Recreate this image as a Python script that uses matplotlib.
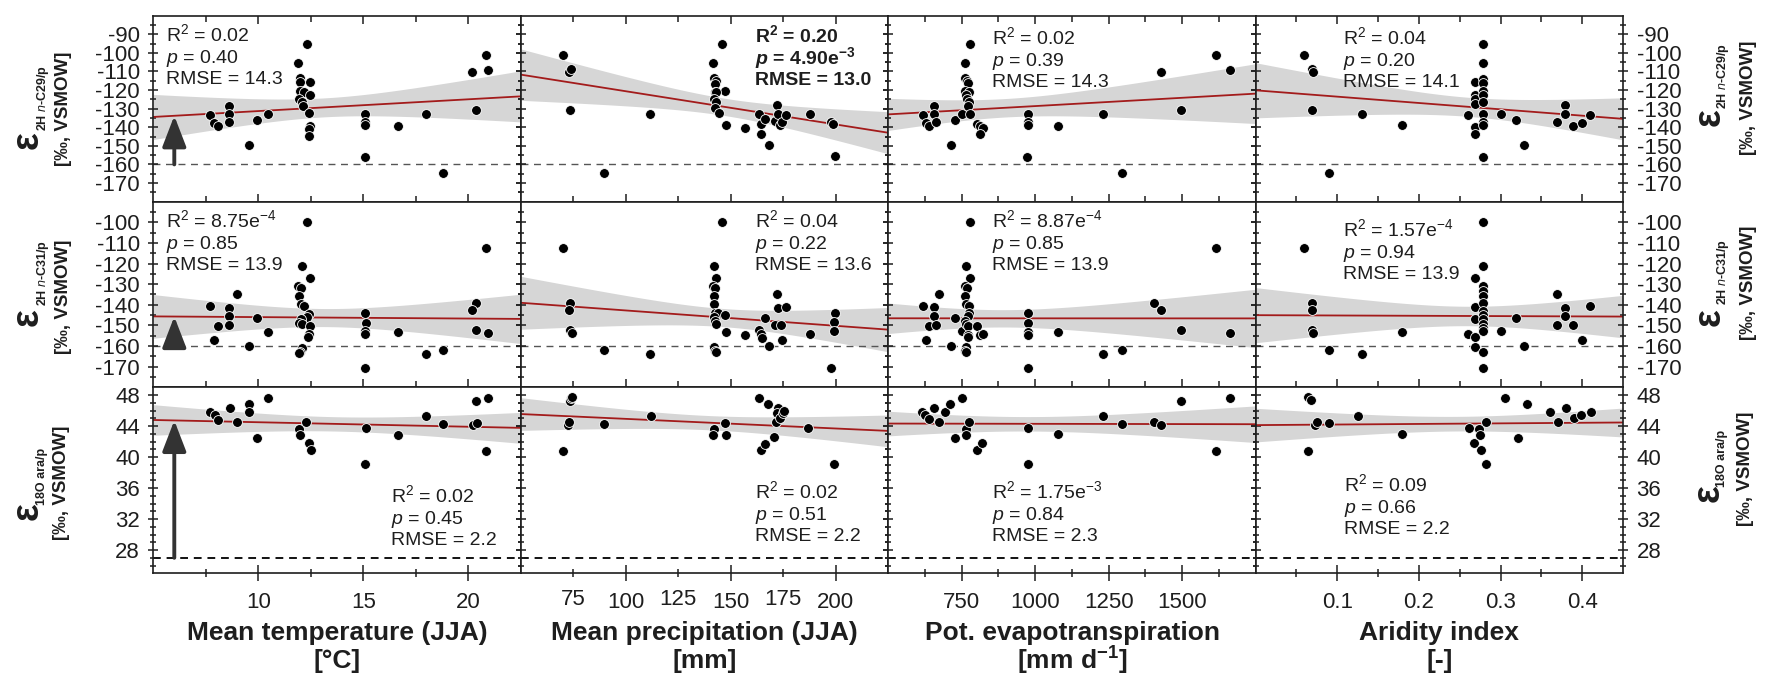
import numpy as np
import matplotlib.pyplot as plt
from matplotlib.ticker import FixedLocator, FixedFormatter, NullFormatter

plt.rcParams['font.family'] = ['Liberation Sans', 'DejaVu Sans']
plt.rcParams['mathtext.fontset'] = 'custom'
plt.rcParams['mathtext.rm'] = 'Liberation Sans'
plt.rcParams['mathtext.it'] = 'Liberation Sans:italic'
plt.rcParams['mathtext.bf'] = 'Liberation Sans:bold'
plt.rcParams['mathtext.bfit'] = 'Liberation Sans:italic:bold'

# ---- data ----
# row 1: eps 2H n-C29/p
temp_c29 = [7.7, 7.9, 8.1, 8.6, 8.6, 8.6, 9.55, 9.95, 10.45,
            12.3, 11.9, 12.0, 12.0, 12.45, 12.0, 12.2, 12.45, 11.95, 12.1, 12.15, 12.4, 12.45, 12.4, 12.4,
            15.1, 15.1, 15.1, 15.1, 16.65, 18.0, 18.8, 20.2, 20.35, 20.85, 20.95]
c29_temp = [-133.6, -137.6, -139.5, -128.4, -132.7, -137.2, -149.4, -135.9, -133.0,
            -95.4, -105.4, -113.5, -115.5, -115.6, -120.5, -121.0, -122.5, -125.0, -126.5, -128.5, -132.3, -139.2, -140.7, -144.6,
            -132.7, -137.2, -138.7, -156.1, -139.2, -133.0, -164.7, -110.5, -130.9, -101.2, -109.3]
prec_c29 = [70.2, 72.9, 74.0, 73.3, 89.7, 111.8,
            145.9, 141.6, 142.0, 143.2, 142.3, 147.1, 142.3, 143.2, 142.0, 143.2, 142.6, 144.3, 147.9,
            157.0, 163.3, 164.6, 164.6, 166.2, 168.1, 171.0, 172.2, 172.5, 173.7, 174.6, 176.5, 187.6, 198.0, 198.7, 199.5]
c29_prec = [-101.2, -110.2, -108.9, -130.9, -164.7, -133.0,
            -95.3, -105.4, -113.5, -115.0, -116.5, -120.6, -121.3, -120.8, -125.0, -126.4, -129.4, -132.3, -139.0,
            -140.4, -132.7, -138.1, -143.5, -135.4, -149.4, -136.6, -128.2, -132.7, -139.0, -137.2, -133.2, -133.0, -137.2, -138.4, -155.7]
pet_c29 = [618, 630, 639, 656, 656, 664, 713, 729, 751,
           777, 763, 763, 768, 772, 762, 776, 765, 768, 775, 770, 780,
           802, 812, 821, 812, 976, 976, 976, 974, 1079, 1230, 1295, 1428, 1497, 1615, 1662]
c29_pet = [-133.6, -137.6, -139.5, -128.4, -132.7, -137.2, -149.4, -135.9, -133.0,
           -95.3, -105.4, -113.5, -115.0, -116.0, -120.6, -121.0, -122.6, -125.0, -126.4, -128.5, -132.7,
           -138.1, -139.5, -140.2, -143.5, -132.7, -137.2, -138.7, -156.1, -139.2, -133.0, -164.7, -110.5, -130.9, -101.2, -109.3]
ai_c29 = [0.059, 0.069, 0.070, 0.069, 0.090, 0.130, 0.179,
          0.260, 0.269, 0.269, 0.269, 0.269, 0.269, 0.269,
          0.278, 0.278, 0.278, 0.278, 0.278, 0.278, 0.278, 0.278, 0.278, 0.278, 0.278,
          0.300, 0.319, 0.329, 0.369, 0.379, 0.379, 0.389, 0.400, 0.410]
c29_ai = [-101.2, -108.9, -110.2, -130.9, -164.7, -133.0, -139.0,
          -133.2, -115.6, -122.6, -124.7, -127.5, -139.8, -143.5,
          -95.3, -105.4, -114.2, -116.0, -120.6, -122.6, -126.4, -132.7, -137.2, -139.0, -156.1,
          -133.0, -135.9, -149.4, -137.2, -128.2, -132.7, -139.5, -137.6, -133.6]

# row 2: eps 2H n-C31/p
temp_c31 = [7.7, 7.9, 8.1, 8.6, 8.6, 8.6, 9.0, 9.55, 9.95, 10.45,
            12.3, 12.1, 12.45, 11.9, 12.05, 11.95, 12.05, 12.2, 12.4, 12.3, 12.05, 11.95, 12.1, 12.45, 12.4, 12.35, 12.1, 12.0, 11.95,
            15.1, 15.15, 15.1, 15.1, 15.1, 16.65, 18.0, 18.8, 20.85, 20.35, 20.2, 20.35, 20.95]
c31_temp = [-140.8, -156.9, -150.1, -141.5, -145.6, -150.0, -134.7, -159.7, -146.4, -153.2,
            -100.1, -121.2, -127.2, -131.0, -132.0, -135.8, -139.6, -140.7, -144.4, -146.0, -147.1, -148.7, -149.5, -150.4, -154.2, -155.8, -161.0, -162.7, -163.4,
            -143.9, -148.8, -152.9, -154.2, -170.7, -153.4, -163.9, -161.8, -112.6, -139.1, -142.3, -152.0, -153.7]
prec_c31 = [70.2, 73.3, 73.0, 73.3, 74.6, 89.7, 111.8,
            145.9, 141.9, 142.9, 141.6, 142.3, 142.0, 142.0, 142.3, 144.0, 147.1, 142.0, 142.3, 142.9, 147.9, 142.0, 142.6, 142.8,
            157.0, 166.2, 163.3, 164.6, 164.8, 168.1, 172.2, 172.5, 171.0, 174.2, 176.5, 174.6, 187.6, 198.0, 199.5, 199.0, 199.2]
c31_prec = [-112.6, -139.1, -142.3, -152.0, -153.7, -161.8, -163.9,
            -100.1, -121.2, -127.2, -131.0, -132.0, -135.8, -139.6, -143.9, -143.9, -145.1, -146.0, -148.0, -149.5, -153.4, -160.2, -162.2, -162.9,
            -154.5, -146.4, -152.0, -154.2, -156.1, -159.7, -134.7, -141.5, -149.6, -149.6, -141.2, -156.9, -154.2, -170.7, -143.9, -148.3, -152.5]
pet_c31 = [618, 628, 639, 656, 656, 664, 673, 713, 729, 751,
           777, 766, 780, 763, 768, 763, 766, 776, 776, 773, 763, 766, 771, 773, 771, 766, 763, 764,
           802, 812, 821, 976, 976, 976, 976, 976, 1077, 1230, 1295, 1405, 1428, 1497, 1615, 1662]
c31_pet = [-140.8, -156.9, -150.1, -141.2, -145.6, -150.0, -134.7, -159.7, -146.4, -152.9,
           -100.1, -121.2, -127.2, -131.0, -132.0, -135.8, -139.6, -140.7, -143.9, -145.6, -148.0, -149.2, -150.4, -154.5, -155.8, -160.2, -162.2, -162.9,
           -150.1, -154.8, -154.2, -143.9, -148.8, -153.2, -154.5, -170.7, -153.4, -163.9, -161.8, -139.1, -142.3, -152.0, -112.6, -153.7]
ai_c31 = [0.059, 0.069, 0.069, 0.069, 0.070, 0.090, 0.130, 0.179,
          0.260, 0.269, 0.269, 0.269, 0.269, 0.269,
          0.278, 0.278, 0.278, 0.278, 0.278, 0.278, 0.278, 0.278, 0.278, 0.278, 0.278, 0.278, 0.278, 0.278,
          0.300, 0.319, 0.329, 0.369, 0.379, 0.379, 0.369, 0.389, 0.400, 0.410]
c31_ai = [-112.6, -139.1, -142.3, -152.0, -153.7, -161.8, -163.9, -153.4,
          -154.2, -127.2, -141.2, -146.7, -155.8, -160.2,
          -100.1, -121.2, -131.0, -133.4, -135.8, -139.1, -143.1, -145.1, -147.1, -149.2, -151.2, -152.9, -162.7, -170.7,
          -152.9, -146.4, -159.7, -134.7, -141.5, -145.6, -150.0, -150.0, -156.9, -140.8]

# row 3: eps 18O ara/p
temp_o18 = [7.7, 7.95, 8.1, 8.65, 9.0, 9.55, 9.55, 9.95, 10.45, 11.95, 12.0, 12.25, 12.4, 12.5,
            15.1, 15.15, 16.65, 18.0, 18.8, 20.25, 20.35, 20.4, 20.85, 20.95]
o18_temp = [45.8, 45.5, 44.8, 46.3, 44.6, 46.8, 45.8, 42.5, 47.6, 43.6, 42.9, 44.5, 41.8, 40.9,
            39.1, 43.8, 42.9, 45.3, 44.3, 44.2, 47.2, 44.4, 40.8, 47.6]
prec_o18 = [70.2, 72.7, 73.2, 73.3, 74.0, 74.6, 89.9, 111.9, 142.0, 141.4, 147.4, 148.0,
            163.4, 164.4, 166.4, 168.0, 170.8, 172.5, 172.1, 171.5, 173.5, 174.9, 175.3, 186.9, 199.4]
o18_prec = [40.8, 44.2, 44.5, 47.2, 47.6, 47.8, 44.3, 45.3, 43.6, 42.9, 44.4, 42.9,
            47.7, 40.9, 41.7, 46.8, 42.6, 46.3, 45.7, 44.6, 45.1, 45.7, 45.9, 43.8, 39.1]
pet_o18 = [615, 625, 639, 656, 672, 694, 711, 729, 751, 765, 765, 775, 801, 818,
           976, 976, 1077, 1232, 1295, 1404, 1428, 1496, 1615, 1662]
o18_pet = [45.8, 45.5, 44.9, 46.3, 44.6, 45.8, 46.8, 42.5, 47.6, 43.6, 42.9, 44.5, 40.9, 41.8,
           43.8, 39.1, 43.0, 45.3, 44.3, 44.5, 44.2, 47.2, 40.8, 47.6]
ai_o18 = [0.064, 0.064, 0.068, 0.073, 0.075, 0.090, 0.126, 0.179, 0.261, 0.268, 0.274, 0.275,
          0.276, 0.282, 0.282, 0.305, 0.322, 0.333, 0.360, 0.371, 0.380, 0.390, 0.399, 0.411]
o18_ai = [40.8, 47.8, 47.4, 44.2, 44.5, 44.4, 45.3, 43.0, 43.7, 41.8, 43.6, 42.8,
          40.9, 39.1, 44.5, 47.6, 42.5, 46.8, 45.8, 44.6, 46.3, 45.0, 45.5, 45.8]

stats_text = [
    [["R$^2$ = 0.02", "$p$ = 0.40", "RMSE = 14.3"],
     [r"R$^{\mathbf{2}}$ = 0.20", r"$\mathbfit{p}$ = 4.90e$^{\mathbf{-3}}$", "RMSE = 13.0"],
     ["R$^2$ = 0.02", "$p$ = 0.39", "RMSE = 14.3"],
     ["R$^2$ = 0.04", "$p$ = 0.20", "RMSE = 14.1"]],
    [["R$^2$ = 8.75e$^{-4}$", "$p$ = 0.85", "RMSE = 13.9"],
     ["R$^2$ = 0.04", "$p$ = 0.22", "RMSE = 13.6"],
     ["R$^2$ = 8.87e$^{-4}$", "$p$ = 0.85", "RMSE = 13.9"],
     ["R$^2$ = 1.57e$^{-4}$", "$p$ = 0.94", "RMSE = 13.9"]],
    [["R$^2$ = 0.02", "$p$ = 0.45", "RMSE = 2.2"],
     ["R$^2$ = 0.02", "$p$ = 0.51", "RMSE = 2.2"],
     ["R$^2$ = 1.75e$^{-3}$", "$p$ = 0.84", "RMSE = 2.3"],
     ["R$^2$ = 0.09", "$p$ = 0.66", "RMSE = 2.2"]],
]
xlabels = [("Mean temperature (JJA)", "[°C]"),
           ("Mean precipitation (JJA)", "[mm]"),
           ("Pot. evapotranspiration", r"[mm d$^{\mathbf{-1}}$]"),
           ("Aridity index", "[-]")]
eps_subs = [r"2H $\mathit{n}$-C29/p", r"2H $\mathit{n}$-C31/p", "18O ara/p"]
threshold = [-160, -160, 27]

xs_all = [[temp_c29, prec_c29, pet_c29, ai_c29],
          [temp_c31, prec_c31, pet_c31, ai_c31],
          [temp_o18, prec_o18, pet_o18, ai_o18]]
ys_all = [[c29_temp, c29_prec, c29_pet, c29_ai],
          [c31_temp, c31_prec, c31_pet, c31_ai],
          [o18_temp, o18_prec, o18_pet, o18_ai]]

# ---- axis setup ----
col_xlim = [(5, 22.5), (50, 225), (500, 1750), (0, 0.45)]
col_major = [[10, 15, 20], [100, 150, 200], [750, 1000, 1250, 1500], [0.1, 0.2, 0.3, 0.4]]
col_major_lbl = [['10', '15', '20'], ['100', '150', '200'], ['750', '1000', '1250', '1500'],
                 ['0.1', '0.2', '0.3', '0.4']]
col_minor = [[7.5, 12.5, 17.5], [75, 125, 175], [625, 875, 1125, 1375, 1625],
             [0.05, 0.15, 0.25, 0.35]]
row_ylim = [(-180, -80), (-180, -90), (25, 49)]
row_major = [list(range(-170, -89, 10)), list(range(-170, -99, 10)), list(range(28, 49, 4))]
row_minor = [list(range(-175, -84, 5)), list(range(-175, -94, 5)), list(range(26, 49, 1))]

W, H = 1772, 690
L, R, T, B = 153.3, 1623.0, 15.7, 573.3
INK = '#1e1e1e'


def fx(x):
    return x / W


def fy(y):
    return 1 - y / H


fig = plt.figure(figsize=(W / 100, H / 100), dpi=100)
gs = fig.add_gridspec(3, 4, left=fx(L), right=fx(R), top=fy(T), bottom=fy(B),
                      wspace=0, hspace=0)

ann_x = [[166, 755, 992, 1343], [166, 755, 992, 1343], [391, 755, 992, 1344]]
ann_y = [[41, 42, 44, 44], [227, 227, 227, 236], [502, 498, 498, 491]]

for r in range(3):
    for c in range(4):
        ax = fig.add_subplot(gs[r, c])
        ax.set_xlim(col_xlim[c])
        ax.set_ylim(row_ylim[r])
        x = np.asarray(xs_all[r][c], float)
        y = np.asarray(ys_all[r][c], float)

        # regression line and 95 % band
        n = len(x)
        slope, icpt = np.polyfit(x, y, 1)
        xx = np.linspace(col_xlim[c][0], col_xlim[c][1], 200)
        yy = icpt + slope * xx
        s = np.sqrt(np.sum((y - (icpt + slope * x)) ** 2) / (n - 2))
        sxx = np.sum((x - x.mean()) ** 2)
        se = s * np.sqrt(1.0 / n + (xx - x.mean()) ** 2 / sxx)
        ax.fill_between(xx, yy - 2.02 * se, yy + 2.02 * se, color='#d6d6d6', lw=0, zorder=1)
        ax.plot(xx, yy, color='#a31b1b', lw=1.3, zorder=2)

        # threshold line
        if r < 2:
            ax.axhline(threshold[r], color='#555555', lw=1.0, dashes=(5, 4), zorder=1.5)
        else:
            ax.axhline(threshold[r], color='#111111', lw=1.4, dashes=(4, 3), zorder=1.5)

        ax.scatter(x, y, s=50, color='black', edgecolors='white', linewidths=0.6, zorder=3)

        if c == 0:
            ax.annotate('', xy=(6, icpt + slope * 6), xytext=(6, threshold[r]),
                        arrowprops=dict(arrowstyle='-|>,head_length=1.35,head_width=0.52',
                                        mutation_scale=14, lw=2.8, color='#333333',
                                        shrinkA=0, shrinkB=0), zorder=4)

        # stats text
        bold = (r == 0 and c == 1)
        for k, line in enumerate(stats_text[r][c]):
            fig.text(fx(ann_x[r][c]), fy(ann_y[r][c] + 21.7 * k), line, fontsize=14,
                     fontweight='bold' if bold else 'normal', color=INK,
                     ha='left', va='baseline')

        # ticks
        ax.xaxis.set_major_locator(FixedLocator(col_major[c]))
        ax.xaxis.set_minor_locator(FixedLocator(col_minor[c]))
        ax.xaxis.set_major_formatter(FixedFormatter(col_major_lbl[c]))
        if c == 1:
            ax.xaxis.set_minor_formatter(FixedFormatter(['75', '125', '175']))
        else:
            ax.xaxis.set_minor_formatter(NullFormatter())
        ax.yaxis.set_major_locator(FixedLocator(row_major[r]))
        ax.yaxis.set_minor_locator(FixedLocator(row_minor[r]))
        ax.yaxis.set_major_formatter(FixedFormatter([str(v) for v in row_major[r]]))

        ax.tick_params(axis='y', which='both', left=True, right=True, direction='inout',
                       labelleft=(c == 0), labelright=(c == 3), labelsize=16, pad=6,
                       color=INK, labelcolor=INK, width=1.1)
        ax.tick_params(axis='y', which='major', length=7.5)
        ax.tick_params(axis='y', which='minor', length=4.5)
        if r < 2:
            ax.tick_params(axis='x', which='both', direction='in', bottom=True, top=(r == 0),
                           labelbottom=False, color=INK, width=1.1)
            ax.tick_params(axis='x', which='major', length=6)
            ax.tick_params(axis='x', which='minor', length=4)
        else:
            ax.tick_params(axis='x', which='both', direction='inout', bottom=True, top=False,
                           labelbottom=True, labelsize=16, pad=8, color=INK, labelcolor=INK,
                           width=1.1)
            ax.tick_params(axis='x', which='major', length=11)
            ax.tick_params(axis='x', which='minor', length=6)
        for sp in ax.spines.values():
            sp.set_linewidth(1.2)
            sp.set_color(INK)

# x-axis titles
col_lefts = [153.3, 521.0, 888.6, 1255.7, 1623.0]
for c in range(4):
    cx = (col_lefts[c] + col_lefts[c + 1]) / 2
    fig.text(fx(cx), fy(633), xlabels[c][0], fontsize=19, fontweight='bold', color=INK,
             ha='center', va='center')
    fig.text(fx(cx), fy(661), xlabels[c][1], fontsize=19, fontweight='bold', color=INK,
             ha='center', va='center')

# y-axis titles, left and right
lab_left = [((27.5, 140), (43, 98), (64, 108.5)),
            ((27.5, 317.5), (43, 273), (64, 297)),
            ((27.5, 511.5), (42, 476), (62, 483))]
lab_right = [((1710, 117), (1723, 76), (1748.5, 97.5)),
             ((1710, 317.5), (1723, 271.5), (1748.5, 283)),
             ((1709, 493.5), (1722, 458.5), (1745, 469))]
for r in range(3):
    for pos in (lab_left[r], lab_right[r]):
        (ex, ey), (sx, sy), (bx, by) = pos
        fig.text(fx(ex), fy(ey), "ε", fontsize=27, fontweight='bold', rotation=90,
                 ha='center', va='center', color=INK)
        fig.text(fx(sx), fy(sy), eps_subs[r], fontsize=9, fontweight='bold', rotation=90,
                 ha='center', va='center', color=INK)
        fig.text(fx(bx), fy(by), "[‰, VSMOW]", fontsize=13.5, fontweight='bold', rotation=90,
                 ha='center', va='center', color=INK)

fig.savefig('out.png', dpi=100)
